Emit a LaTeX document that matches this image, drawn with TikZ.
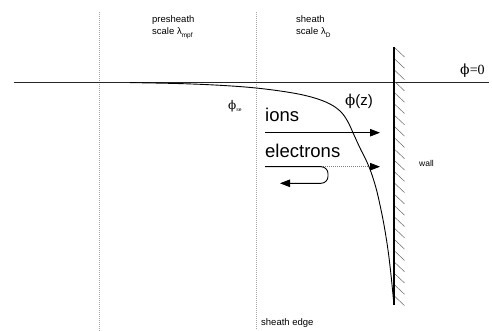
\documentclass[tikz,border=0pt]{standalone}
\usepackage{fontspec}
\setmainfont{Liberation Sans}
\newfontfamily\phifont{DejaVu Serif}
\newfontfamily\serifont{Liberation Serif}
\usetikzlibrary{arrows.meta}
\newcommand\ph{{\phifont\symbol{"03D5}}}
\newcommand\subtxt[1]{\raisebox{-2.5pt}{\fontsize{6.5}{7}\selectfont #1}}
\begin{document}
\begin{tikzpicture}[x=1pt,y=-1pt,
  lbl/.style={inner sep=0pt, anchor=base west},
  small/.style={lbl, font=\fontsize{9.5}{11}\selectfont},
  big/.style={lbl, font=\fontsize{18.5}{20}\selectfont},
  guide/.style={gray!70, line width=0.6pt, dash pattern=on 1pt off 1pt},
  tip/.style={-{Triangle[length=10pt,width=7.5pt,color=black]}},
  arrowline/.style={line width=0.9pt, tip},
]
\useasboundingbox[fill=white] (0,0) rectangle (492,331);
% guide lines
\draw[guide] (99,12) -- (99,331);
\draw[guide] (256,12) -- (256,329);
% zero potential line
\draw[black!85, line width=1.1pt] (14,82.5) -- (489,82.5);
% wall hatching and wall
\foreach \k in {0,...,22} \draw[black!60, line width=0.5pt] (395,48+11.3*\k) -- ++(9.5,9);
\draw[line width=2.2pt] (394,47) -- (394,305);
% potential curve
\draw[line width=0.9pt] plot[smooth, tension=0.6] coordinates {
 (130,82.6) (180,83.6) (220,85.3) (256,88) (290,92.5) (313,97.5) (330,104)
 (341,112) (348,122) (354,135) (360,148) (366,160) (371,172) (376,188)
 (380,205) (384,225) (388,250) (391,275) (393.5,300)};
% labels
\node[small] (pre1) at (152,22.5) {presheath};
\node[small] (pre2) at (152,35) {scale λ\subtxt{mpf}};
\node[small] (sh1) at (296,22.5) {sheath};
\node[small] (sh2) at (296,35) {scale λ\subtxt{D}};
\node[lbl, font=\fontsize{14}{15}\selectfont] (phi0) at (460,75) {\ph{\serifont=0}};
\node[lbl, font=\fontsize{12}{13}\selectfont] (phise) at (228,110) {\ph\raisebox{-2pt}{\fontsize{5}{5}\selectfont se}};
\node[lbl, font=\fontsize{15}{16}\selectfont] (phiz) at (345,106) {\ph(z)};
\node[big] (ions) at (265,122) {ions};
\node[big] (elec) at (265,158) {electrons};
\node[lbl, font=\fontsize{8.5}{9}\selectfont] (wall) at (419,167) {wall};
\node[small] (edge) at (261,325) {sheath edge};
% arrows
\coordinate (iS) at (265,132.7);
\coordinate (iE) at (380,132.7);
\draw[arrowline] (iS) -- (iE);
\coordinate (eS) at (265,166.7);
\coordinate (eM) at (321,166.7);
\coordinate (eE) at (380,166.7);
\coordinate (eB) at (280,183.3);
\draw[gray, line width=0.8pt, dash pattern=on 1pt off 1pt, tip] (eM) -- (eE);
\draw[arrowline, rounded corners=7pt] (eS) -- (328,166.7) -- (328,183.3) -- (eB);
\end{tikzpicture}
\end{document}
